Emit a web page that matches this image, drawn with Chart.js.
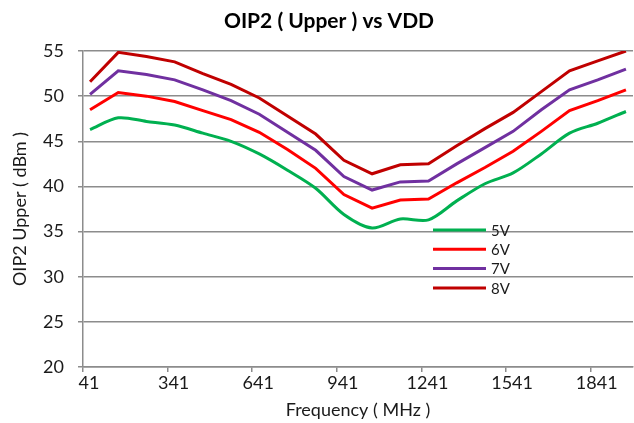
<!DOCTYPE html>
<html>
<head>
<meta charset="utf-8">
<script src="https://cdn.jsdelivr.net/npm/chart.js@4/dist/chart.umd.min.js"></script>
<style>
  body { margin: 0; background: #fff; }
  #wrap { width: 634px; height: 423px; }
</style>
</head>
<body>
<div id="wrap"><canvas id="chart"></canvas></div>
<script>
'use strict';

// frequency of each measured point (MHz)
const freqs = [66, 166, 266, 366, 466, 566, 666, 766, 866, 966,
  1066, 1166, 1266, 1366, 1466, 1566, 1666, 1766, 1866, 1966];

const v5 = [46.3, 47.6, 47.2, 46.8, 45.9, 45.0, 43.6, 41.8, 39.8, 36.9,
  35.4, 36.4, 36.3, 38.4, 40.3, 41.5, 43.6, 45.9, 47.0, 48.3];
const v6 = [48.5, 50.4, 50.0, 49.4, 48.4, 47.4, 46.0, 44.1, 42.0, 39.1,
  37.6, 38.5, 38.6, 40.4, 42.1, 43.9, 46.1, 48.4, 49.5, 50.7];
const v7 = [50.2, 52.8, 52.4, 51.8, 50.7, 49.5, 48.0, 46.0, 44.0, 41.1,
  39.6, 40.5, 40.6, 42.5, 44.3, 46.1, 48.5, 50.7, 51.8, 53.0];
const v8 = [51.6, 54.85, 54.4, 53.8, 52.5, 51.3, 49.8, 47.8, 45.8, 42.9,
  41.4, 42.4, 42.5, 44.5, 46.4, 48.2, 50.5, 52.8, 53.9, 55.0];

const seriesNames = ['5V', '6V', '7V', '8V'];
const xTicks = [41, 341, 641, 941, 1241, 1541, 1841];

const FONT = 'Lato, "Open Sans", sans-serif';
const GRID = '#8c8c8c';

function pts(vals) {
  return vals.map((v, i) => ({ x: freqs[i], y: v }));
}

// chart title and the in-plot legend, placed like the original
const overlay = {
  id: 'overlay',
  afterDraw(chart) {
    const ctx = chart.ctx;
    ctx.save();
    ctx.fillStyle = '#000';
    ctx.font = 'bold 21px ' + FONT;
    ctx.textAlign = 'center';
    ctx.textBaseline = 'middle';
    ctx.fillText('OIP2 ( Upper ) vs VDD', 329, 21);

    ctx.font = '15px ' + FONT;
    ctx.textAlign = 'left';
    chart.data.datasets.forEach((ds, i) => {
      const y = 230 + i * 19.3;
      ctx.strokeStyle = ds.borderColor;
      ctx.lineWidth = 3;
      ctx.beginPath();
      ctx.moveTo(433, y);
      ctx.lineTo(486, y);
      ctx.stroke();
      ctx.fillStyle = '#1a1a1a';
      ctx.fillText(ds.label, 491, y + 1);
    });
    ctx.restore();
  }
};

new Chart(document.getElementById('chart'), {
  type: 'line',
  data: {
    datasets: [{
      label: seriesNames[0],
      data: pts(v5),
      borderColor: '#00b050',
      tension: 0.3
    }, {
      label: seriesNames[1],
      data: pts(v6),
      borderColor: '#ff0000'
    }, {
      label: seriesNames[2],
      data: pts(v7),
      borderColor: '#7030a0'
    }, {
      label: seriesNames[3],
      data: pts(v8),
      borderColor: '#c00000'
    }]
  },
  options: {
    responsive: true,
    maintainAspectRatio: false,
    devicePixelRatio: 1,
    animation: false,
    layout: { padding: { top: 51, right: 1, left: 0, bottom: 0 } },
    elements: {
      line: { borderWidth: 3, fill: false },
      point: { radius: 0 }
    },
    plugins: {
      legend: { display: false },
      title: { display: false },
      tooltip: { enabled: false }
    },
    scales: {
      x: {
        type: 'linear',
        min: 41,
        max: 1991,
        afterBuildTicks: (scale) => {
          scale.ticks = xTicks.map(v => ({ value: v }));
        },
        afterFit: (scale) => { scale.height = 56; },
        ticks: {
          color: '#1a1a1a',
          font: { family: FONT, size: 18 },
          padding: 0,
          labelOffset: 6,
          maxRotation: 0,
          autoSkip: false,
          callback: (v) => String(v)
        },
        grid: {
          drawOnChartArea: false,
          drawTicks: true,
          tickLength: 5,
          color: GRID,
          lineWidth: 1.5
        },
        border: { color: GRID, width: 1.5 },
        title: {
          display: true,
          text: 'Frequency ( MHz )',
          color: '#1a1a1a',
          font: { family: FONT, size: 18 },
          padding: { top: 0, bottom: 2 }
        }
      },
      y: {
        min: 20,
        max: 55,
        afterFit: (scale) => { scale.width = 83; },
        ticks: {
          stepSize: 5,
          color: '#1a1a1a',
          font: { family: FONT, size: 18 },
          padding: 14
        },
        grid: {
          color: GRID,
          lineWidth: 1.5,
          tickLength: 5
        },
        border: { color: GRID, width: 1.5 },
        title: {
          display: true,
          text: 'OIP2 Upper ( dBm )',
          color: '#1a1a1a',
          font: { family: FONT, size: 18 },
          padding: { top: 9, bottom: 0 }
        }
      }
    }
  },
  plugins: [overlay]
});
</script>
</body>
</html>
